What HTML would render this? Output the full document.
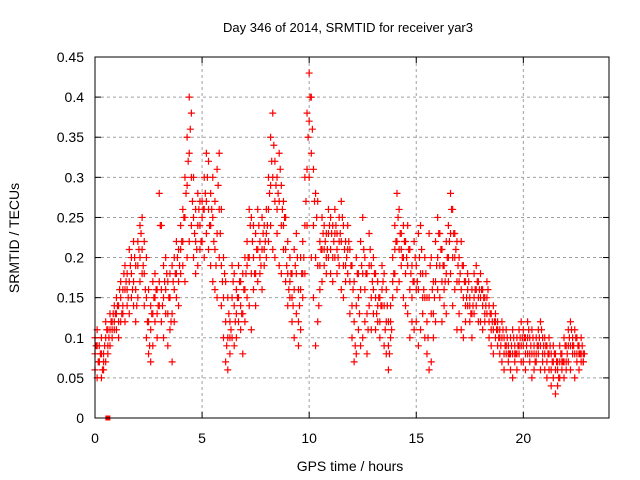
<!DOCTYPE html>
<html><head><meta charset="utf-8"><style>
body{margin:0;background:#fff}
svg{display:block;font-family:"Liberation Sans",sans-serif}
</style></head><body>
<svg id="chart" width="640" height="480">
<rect width="640" height="480" fill="#fff"/>
<g id="grid"></g>
<g id="ticks"></g>
<g id="marks"></g>
<rect x="95" y="57" width="514" height="361" fill="none" stroke="#000" stroke-width="1"/>
<text x="348" y="32" text-anchor="middle" font-size="13">Day 346 of 2014, SRMTID for receiver yar3</text>
<text x="350" y="471" text-anchor="middle" font-size="14">GPS time / hours</text>
<text transform="translate(19,238) rotate(-90)" text-anchor="middle" font-size="14">SRMTID / TECUs</text>
</svg>
<script>
const xTicks=[0,5,10,15,20];
const yTicks=[0,0.05,0.1,0.15,0.2,0.25,0.3,0.35,0.4,0.45];
const yTickLabels=["0","0.05","0.1","0.15","0.2","0.25","0.3","0.35","0.4","0.45"];
const hours=[0,1,2,3,4,5,6,7,8,9,10,11,12,13,14,15,16,17,18,19,20,21,22];
const upper=[
[.10,.11,.09,.10,.08,.12,.11,.13,.12,.14],
[.15,.14,.17,.16,.19,.18,.21,.20,.22,.19],
[.22,.24,.25,.22,.20,.16,.14,.17,.18,.16],
[.28,.24,.19,.20,.17,.18,.19,.20,.22,.21],
[.24,.26,.30,.35,.40,.38,.30,.26,.28,.27],
[.27,.30,.33,.32,.28,.30,.27,.31,.33,.26],
[.20,.17,.15,.12,.19,.18,.16,.19,.17,.18],
[.20,.22,.26,.25,.24,.23,.26,.22,.25,.24],
[.26,.30,.35,.38,.32,.30,.33,.29,.27,.25],
[.22,.20,.18,.21,.23,.16,.20,.22,.30,.38],
[.43,.40,.31,.28,.27,.22,.25,.24,.23,.26],
[.25,.24,.26,.23,.25,.27,.24,.22,.24,.21],
[.19,.17,.20,.18,.22,.25,.20,.18,.23,.19],
[.20,.18,.17,.15,.19,.18,.16,.12,.14,.20],
[.24,.28,.26,.23,.24,.22,.24,.21,.19,.22],
[.19,.23,.24,.18,.20,.15,.23,.20,.17,.22],
[.25,.23,.21,.19,.22,.24,.28,.26,.23,.22],
[.20,.22,.19,.17,.18,.15,.16,.18,.19,.17],
[.18,.16,.15,.17,.14,.13,.14,.13,.12,.11],
[.12,.10,.11,.09,.10,.11,.09,.10,.11,.12],
[.11,.10,.12,.10,.11,.09,.10,.11,.12,.10],
[.10,.09,.10,.08,.09,.08,.07,.09,.08,.10],
[.09,.11,.12,.10,.11,.10,.09,.10,.08]];
const middle=[
[.08,.09,.07,.08,.07,.10,.09,.11,.11,.12],
[.13,.12,.15,.14,.16,.16,.17,.18,.17,.16],
[.19,.20,.21,.18,.15,.12,.11,.13,.15,.13],
[.17,.16,.15,.16,.13,.15,.13,.16,.18,.17],
[.21,.22,.25,.29,.33,.30,.25,.22,.24,.24],
[.25,.26,.27,.26,.24,.25,.21,.23,.26,.19],
[.15,.12,.10,.10,.15,.14,.13,.15,.14,.13],
[.16,.19,.20,.18,.20,.18,.21,.20,.21,.21],
[.23,.26,.29,.30,.27,.26,.27,.24,.24,.21],
[.18,.17,.15,.16,.18,.12,.16,.18,.24,.31],
[.37,.33,.24,.20,.19,.19,.21,.21,.20,.23],
[.21,.20,.23,.21,.22,.22,.19,.19,.21,.17],
[.14,.12,.14,.15,.16,.18,.16,.13,.19,.15],
[.16,.15,.14,.12,.16,.14,.12,.09,.12,.17],
[.21,.22,.21,.21,.20,.18,.19,.16,.15,.17],
[.16,.16,.18,.15,.15,.12,.15,.13,.13,.17],
[.20,.19,.17,.16,.18,.20,.23,.20,.20,.17],
[.17,.16,.15,.14,.16,.14,.13,.15,.16,.15],
[.15,.14,.13,.15,.12,.11,.11,.12,.11,.10],
[.10,.08,.09,.08,.08,.08,.08,.08,.09,.09],
[.09,.08,.10,.08,.08,.08,.08,.09,.09,.08],
[.08,.07,.08,.06,.07,.06,.06,.07,.07,.07],
[.07,.09,.09,.09,.08,.08,.08,.08,.07]];
const lower=[
[.06,.05,.07,.05,.06,.07,.08,.09,.10,.11],
[.11,.10,.12,.13,.12,.14,.13,.15,.14,.12],
[.15,.17,.18,.14,.10,.08,.07,.09,.12,.10],
[.14,.12,.10,.13,.09,.11,.07,.12,.15,.14],
[.18,.19,.17,.20,.22,.24,.20,.18,.19,.21],
[.22,.20,.23,.21,.19,.17,.16,.15,.20,.14],
[.10,.07,.06,.08,.10,.09,.10,.12,.11,.08],
[.12,.15,.14,.11,.16,.14,.17,.18,.16,.19],
[.20,.22,.24,.21,.20,.23,.19,.18,.21,.17],
[.14,.15,.12,.10,.13,.09,.11,.15,.18,.24],
[.30,.20,.15,.09,.12,.16,.17,.19,.18,.20],
[.18,.17,.20,.18,.19,.16,.15,.17,.18,.13],
[.10,.07,.08,.11,.09,.10,.12,.08,.14,.11],
[.13,.11,.12,.10,.14,.09,.08,.06,.10,.15],
[.18,.16,.17,.19,.15,.14,.13,.10,.12,.11],
[.12,.09,.11,.13,.10,.08,.06,.07,.10,.12],
[.16,.15,.12,.14,.13,.17,.18,.14,.16,.11],
[.13,.11,.10,.12,.14,.12,.10,.13,.14,.12],
[.12,.11,.12,.13,.10,.09,.08,.10,.09,.08],
[.07,.06,.08,.07,.06,.05,.07,.06,.08,.07],
[.07,.06,.08,.07,.05,.06,.07,.08,.06,.07],
[.06,.05,.06,.04,.05,.03,.04,.05,.06,.05],
[.06,.07,.06,.08,.05,.07,.06,.07,.07]];
const offset=[
[.09,.07,.08,.06,.09,.11,.10,.12,.13,.13],
[.14,.16,.13,.18,.17,.15,.19,.16,.20,.14],
[.21,.23,.19,.16,.12,.09,.13,.15,.16,.14],
[.24,.14,.17,.18,.15,.12,.17,.18,.20,.19],
[.22,.25,.28,.32,.36,.27,.23,.21,.26,.22],
[.26,.28,.30,.24,.26,.22,.19,.29,.23,.17],
[.18,.09,.13,.11,.17,.12,.15,.17,.13,.16],
[.18,.20,.24,.22,.18,.21,.24,.19,.23,.22],
[.24,.28,.32,.34,.29,.28,.31,.26,.25,.19],
[.16,.18,.14,.19,.20,.14,.18,.20,.27,.35],
[.40,.36,.27,.25,.14,.21,.23,.22,.21,.24],
[.23,.22,.24,.20,.23,.25,.21,.20,.22,.19],
[.16,.09,.18,.13,.19,.21,.18,.11,.21,.17],
[.18,.13,.15,.14,.17,.11,.14,.08,.11,.18],
[.22,.25,.23,.20,.22,.20,.21,.18,.17,.20],
[.17,.20,.21,.16,.18,.10,.19,.16,.15,.19],
[.23,.21,.19,.17,.20,.22,.26,.23,.21,.19],
[.18,.19,.17,.15,.17,.13,.14,.16,.17,.16],
[.16,.15,.14,.16,.13,.12,.12,.11,.10,.09],
[.11,.09,.10,.08,.09,.10,.08,.09,.10,.10],
[.10,.09,.11,.09,.10,.07,.09,.10,.11,.09],
[.09,.08,.09,.07,.08,.07,.05,.08,.07,.09],
[.08,.10,.11,.09,.10,.09,.08,.09,.08]];
const xMin=0,xMax=24,yMin=0,yMax=0.45;
const L=95,R=609,T=57,B=418;
const NS="http://www.w3.org/2000/svg";
function xs(v){return L+(v-xMin)/(xMax-xMin)*(R-L);}
function ys(v){return B-(v-yMin)/(yMax-yMin)*(B-T);}
function mk(tag,attrs,parent){const e=document.createElementNS(NS,tag);for(const k in attrs)e.setAttribute(k,attrs[k]);parent.appendChild(e);return e;}
const grid=document.getElementById('grid'),ticks=document.getElementById('ticks'),marks=document.getElementById('marks');
yTicks.forEach((t,i)=>{const y=ys(t);
 if(i>0&&i<yTicks.length-1){const g=mk('line',{x1:L,x2:R,y1:y,y2:y,stroke:'#a0a0a0','stroke-dasharray':'3,3'},grid);
 
 }
 mk('line',{x1:L,x2:L+6,y1:y,y2:y,stroke:'#000'},ticks);mk('line',{x1:R,x2:R-6,y1:y,y2:y,stroke:'#000'},ticks);
 const tx=mk('text',{x:L-11,y:y+5,'text-anchor':'end','font-size':'14'},ticks);tx.textContent=yTickLabels[i];
 
 });
xTicks.forEach(t=>{const x=xs(t);
 if(t>0){const g=mk('line',{x1:x,x2:x,y1:T,y2:B,stroke:'#a0a0a0','stroke-dasharray':'3,3'},grid);
 
 }
 mk('line',{x1:x,x2:x,y1:B,y2:B-6,stroke:'#000'},ticks);mk('line',{x1:x,x2:x,y1:T,y2:T+6,stroke:'#000'},ticks);
 const tx=mk('text',{x:x,y:B+25,'text-anchor':'middle','font-size':'14'},ticks);tx.textContent=String(t);
 
 });
function plus(t,v){const x=xs(t),y=ys(v);
 const p=mk('path',{d:`M${x-3.5},${y}H${x+3.5}M${x},${y-3.5}V${y+3.5}`,stroke:'#ff0000','stroke-width':'1.2',fill:'none'},marks);
 
 }
[upper,middle,lower].forEach(series=>{
 hours.forEach((h,hi)=>{series[hi].forEach((v,k)=>{plus(h+k*0.1,v);});});
});
hours.forEach((h,hi)=>{offset[hi].forEach((v,k)=>{plus(h+k*0.1+0.05,v);});});
const sq=mk('rect',{x:xs(0.6)-2.5,y:ys(0)-2.5,width:5,height:5,fill:'#ff0000'},marks);


</script>
</body></html>
